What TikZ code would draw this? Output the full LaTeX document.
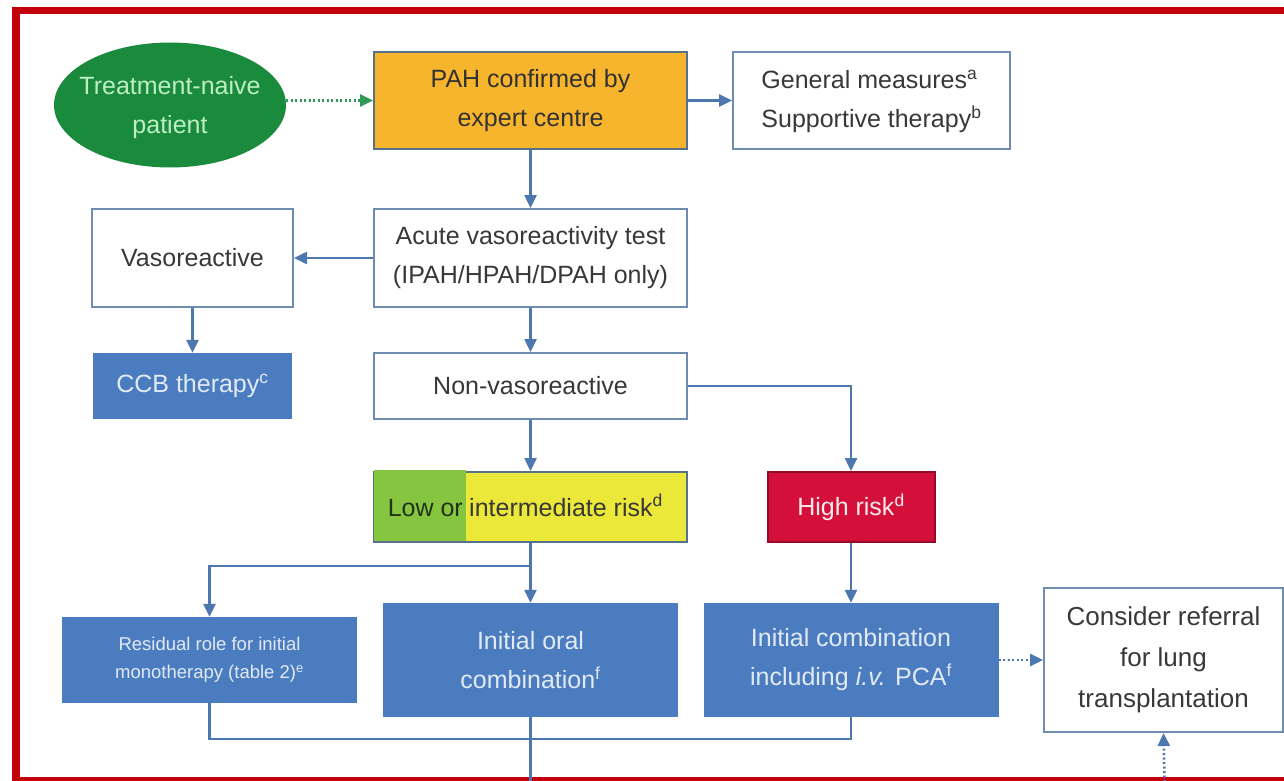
\documentclass[tikz,border=0pt]{standalone}
\usepackage{fontspec}
\setmainfont{Liberation Sans}
\usetikzlibrary{shapes.geometric,arrows.meta,calc}
\definecolor{frame}{HTML}{C4000F}
\definecolor{conn}{HTML}{4D78AF}
\definecolor{bord}{HTML}{6D8CAF}
\definecolor{txt}{HTML}{383838}
\definecolor{bluefill}{HTML}{4A7CBF}
\definecolor{bluetxt}{HTML}{E2EAF6}
\definecolor{ellfill}{HTML}{1A8A3D}
\definecolor{elltxt}{HTML}{BDEFC4}
\definecolor{orangefill}{HTML}{F7B52E}
\definecolor{greenfill}{HTML}{86C540}
\definecolor{yellowfill}{HTML}{ECE83A}
\definecolor{highfill}{HTML}{D4103A}
\definecolor{dotgreen}{HTML}{2E9A55}
\definecolor{lowtxt}{HTML}{1F3318}
\tikzset{
  x=1pt,y=-1pt,
  base/.style={inner sep=0pt,align=center,font=\fontsize{25}{39}\selectfont},
  wbox/.style={base,rectangle,draw=bord,line width=2pt,fill=white,text=txt},
  bbox/.style={base,rectangle,fill=bluefill,text=bluetxt},
  arr/.style={draw=conn,line width=2.5pt,-{Triangle[length=13pt,width=12pt]}},
  ln/.style={draw=conn,line width=2.5pt},
  dotarr/.style={line width=2.5pt,dash pattern=on 2pt off 2.5pt,-{Triangle[length=13pt,width=12pt,sep=0pt]}},
}
\begin{document}
\begin{tikzpicture}
\useasboundingbox (0,0) rectangle (1284,781);
\clip (0,0) rectangle (1284,781);
\fill[white] (0,0) rectangle (1284,781);
% frame
\draw[frame,line width=7.5pt] (1300,10.5) -- (16,10.5) -- (16,780.5) -- (1300,780.5);

% nodes
\node[ellipse,fill=ellfill,inner sep=0pt,minimum width=232pt,minimum height=125pt] (ell) at (170,105) {};
\node[base,text=elltxt] (elltext) at (170,108) {Treatment-naive\\patient};
\node[base,rectangle,draw=bord!80!black,line width=2pt,fill=orangefill,text=txt!90!black,minimum width=313pt,minimum height=97pt] (pah) at (530.5,100.5) {PAH confirmed by\\expert centre};
\node[wbox,minimum width=277pt,minimum height=97pt] (gen) at (871.5,100.5) {\begin{tabular}{@{}l@{}}General measures\textsuperscript{a}\\Supportive therapy\textsuperscript{b}\end{tabular}};
\node[wbox,minimum width=313pt,minimum height=98pt] (acute) at (530.5,258) {Acute vasoreactivity test\\(IPAH/HPAH/DPAH only)};
\node[wbox,minimum width=201pt,minimum height=98pt] (vaso) at (192.5,258) {Vasoreactive};
\node[bbox,minimum width=199pt,minimum height=66pt] (ccb) at (192.5,386) {CCB therapy\textsuperscript{c}};
\node[wbox,minimum width=313pt,minimum height=66pt] (nonv) at (530.5,386) {Non-vasoreactive};
% low / intermediate risk
\node[base,rectangle,draw=bord!80!black,line width=2pt,fill=yellowfill,minimum width=313pt,minimum height=70pt] (low) at (530.5,507) {};
\fill[greenfill] ($(low.north west)+(1pt,1pt)$) rectangle (466,541);
\node[base,text=lowtxt,anchor=base east] (lowa) at (463,516) {Low or};
\node[base,text=txt,anchor=base west] (lowb) at (469,516) {intermediate risk\textsuperscript{d}};
\node[base,rectangle,draw=highfill!70!black,line width=2pt,fill=highfill,text=white!92!red,minimum width=167pt,minimum height=70pt] (high) at (851,507) {High risk\textsuperscript{d}};
\node[bbox,minimum width=295pt,minimum height=86pt,font=\fontsize{18.5}{28}\selectfont] (resid) at (209.5,660) {Residual role for initial\\monotherapy (table 2)\textsuperscript{e}};
\node[bbox,minimum width=295pt,minimum height=114pt] (oral) at (530.5,660) {Initial oral\\combination\textsuperscript{f}};
\node[bbox,minimum width=295pt,minimum height=114pt] (comb) at (851,660) {Initial combination\\including \textit{i.v.} PCA\textsuperscript{f}};
\node[wbox,minimum width=239pt,minimum height=144pt,font=\fontsize{26}{41}\selectfont] (refer) at (1163.5,660) {Consider referral\\for lung\\transplantation};

% coordinates
\coordinate (br) at (530.5,566);
\coordinate (bl) at (212,739);
\coordinate (bot) at (530.5,800);
\coordinate (botr) at (1165,800);

% connectors
\draw[dotarr,dotgreen] (pah.west -| ell.east) -- (pah.west);
\draw[arr] (pah.east) -- (gen.west);
\draw[arr] (pah.south) -- (acute.north);
\draw[arr] (acute.west) -- (vaso.east);
\draw[arr] (vaso.south) -- (ccb.north);
\draw[arr] (acute.south) -- (nonv.north);
\draw[arr] (nonv.east) -| (high.north);
\draw[arr] (nonv.south) -- (low.north);
\draw[ln] (low.south) -- (br);
\draw[arr] (br) -| (resid.north);
\draw[arr] (br) -- (oral.north);
\draw[arr] (high.south) -- (comb.north);
\draw[dotarr,conn] (comb.east) -- (refer.west);
\draw[ln] (resid.south) |- (bl) -| (comb.south);
\draw[ln] (oral.south) -- (bot);
\draw[dotarr,conn] (botr) -- (refer.south);
\end{tikzpicture}
\end{document}
